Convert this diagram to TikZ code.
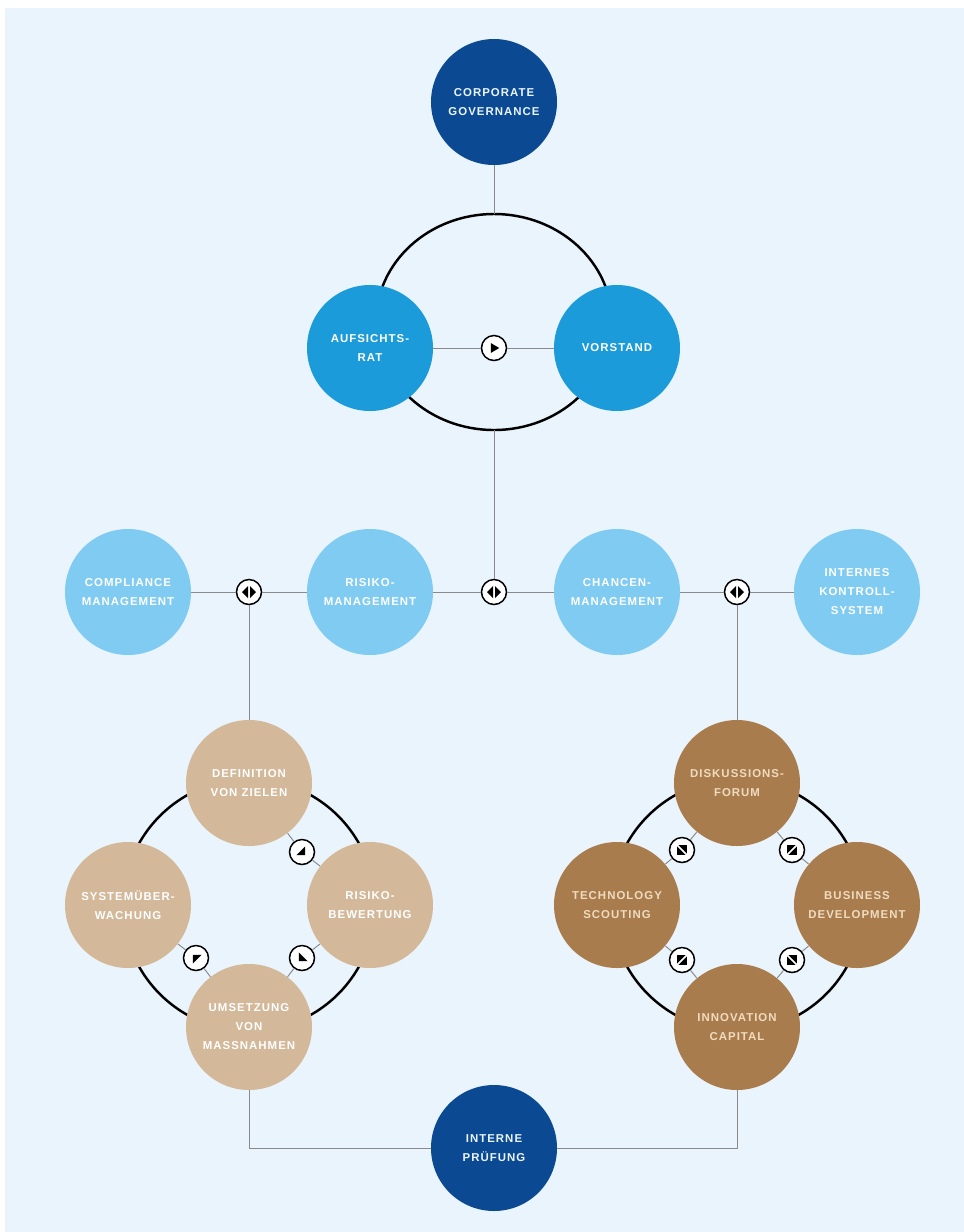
\documentclass[tikz,border=0pt]{standalone}
\usepackage{fontspec}
\newfontfamily\chartfont[LetterSpace=9]{Liberation Sans}
\usepackage{xcolor}
\usepackage{tikz}
\usetikzlibrary{positioning}

\definecolor{panel}{HTML}{EAF4FC}
\definecolor{govblue}{HTML}{0B4A93}
\definecolor{boardblue}{HTML}{1C9BDA}
\definecolor{mgmtblue}{HTML}{80CBF1}
\definecolor{risktan}{HTML}{D3B89A}
\definecolor{innobrown}{HTML}{A97C4D}
\definecolor{innotext}{HTML}{EFDCC0}
\definecolor{linegray}{HTML}{8A8A8A}

\begin{document}
\begin{tikzpicture}[x=0.2mm,y=-0.2mm,
  bubble/.style={circle,minimum size=25.2mm,inner sep=0pt,align=center,
    font=\chartfont\bfseries\fontsize{6.5}{10.8}\selectfont},
  govnode/.style={bubble,fill=govblue,text=panel},
  boardnode/.style={bubble,fill=boardblue,text=white},
  mgmtnode/.style={bubble,fill=mgmtblue,text=white},
  risknode/.style={bubble,fill=risktan,text=white},
  innonode/.style={bubble,fill=innobrown,text=innotext},
  link/.style={draw=linegray,line width=0.55pt},
  ring/.style={draw=black,line width=1.4pt},
  icon/.style={circle,draw=black,line width=0.85pt,fill=white,minimum size=5mm,inner sep=0pt}
]
  \useasboundingbox (0,0) rectangle (964,1232);
  \fill[white] (0,0) rectangle (964,1232);
  \fill[panel] (5,8) rectangle (964,1232);

  % Rings
  \draw[ring] (494,322) ellipse [x radius=23.6mm, y radius=21.6mm];
  \draw[ring] (249,905) circle [radius=25.2mm];
  \draw[ring] (737,905) circle [radius=25.2mm];
  \coordinate (ringtop) at (494,214);
  \coordinate (ringbot) at (494,430);

  % Governance
  \node[govnode]   (gov)   at (494,102)  {CORPORATE\\GOVERNANCE};
  \node[boardnode] (board) at (370,348)  {AUFSICHTS-\\RAT};
  \node[boardnode] (exec)  at (617,348)  {VORSTAND};
  \node[icon]      (bx)    at (494,348)  {};

  % Management row
  \node[mgmtnode] (comp)  at (128,592) {COMPLIANCE\\MANAGEMENT};
  \node[mgmtnode] (risk)  at (370,592) {RISIKO-\\MANAGEMENT};
  \node[mgmtnode] (chanc) at (617,592) {CHANCEN-\\MANAGEMENT};
  \node[mgmtnode] (iks)   at (857,592) {INTERNES\\KONTROLL-\\SYSTEM};
  \node[icon] (mx1) at (249,592) {};
  \node[icon] (mx2) at (494,592) {};
  \node[icon] (mx3) at (737,592) {};

  % Risk cycle
  \node[risknode] (goal)  at (249,783)  {DEFINITION\\VON ZIELEN};
  \node[risknode] (watch) at (128,905)  {SYSTEMÜBER-\\WACHUNG};
  \node[risknode] (rate)  at (370,905)  {RISIKO-\\BEWERTUNG};
  \node[risknode] (act)   at (249,1027) {UMSETZUNG\\VON\\MASSNAHMEN};
  \node[icon] (rx1) at (302,852) {};
  \node[icon] (rx2) at (302,958) {};
  \node[icon] (rx3) at (196,958) {};

  % Opportunity cycle
  \node[innonode] (forum)   at (737,783)  {DISKUSSIONS-\\FORUM};
  \node[innonode] (scout)   at (617,905)  {TECHNOLOGY\\SCOUTING};
  \node[innonode] (bizdev)  at (857,905)  {BUSINESS\\DEVELOPMENT};
  \node[innonode] (capital) at (737,1027) {INNOVATION\\CAPITAL};
  \node[icon] (ox1) at (682,850) {};
  \node[icon] (ox2) at (792,850) {};
  \node[icon] (ox3) at (682,960) {};
  \node[icon] (ox4) at (792,960) {};

  % Audit
  \node[govnode] (audit) at (494,1148) {INTERNE\\PRÜFUNG};

  % Icon tips
  \fill[shift={(bx.center)}] (1.05mm,0pt)--(-0.65mm,1mm)--(-0.65mm,-1mm)--cycle;
  \foreach \ic/\ang in {rx1/-45,rx2/-135,rx3/135}
    \fill[shift={(\ic.center)},rotate=\ang]
      (0.9mm,0pt)--(-0.35mm,1.25mm)--(-0.35mm,-1.25mm)--cycle;
  \foreach \ic/\ang in {mx1/0,mx2/0,mx3/0,ox1/45,ox2/-45,ox3/-45,ox4/45}
    \fill[shift={(\ic.center)},rotate=\ang]
      (1.4mm,0pt)--(0.2mm,1.2mm)--(0.2mm,-1.2mm)--cycle
      (-1.4mm,0pt)--(-0.2mm,1.2mm)--(-0.2mm,-1.2mm)--cycle;

  % Connections
  \draw[link] (gov) -- (ringtop);
  \draw[link] (board) -- (bx) -- (exec);
  \draw[link] (ringbot) -- (mx2);
  \draw[link] (comp) -- (mx1) -- (risk) -- (mx2) -- (chanc) -- (mx3) -- (iks);
  \draw[link] (mx1) -- (goal);
  \draw[link] (mx3) -- (forum);
  \draw[link] (goal) -- (rx1) -- (rate);
  \draw[link] (rate) -- (rx2) -- (act);
  \draw[link] (act) -- (rx3) -- (watch);
  \draw[link] (scout) -- (ox1) -- (forum);
  \draw[link] (forum) -- (ox2) -- (bizdev);
  \draw[link] (scout) -- (ox3) -- (capital);
  \draw[link] (capital) -- (ox4) -- (bizdev);
  \draw[link] (act) |- (audit);
  \draw[link] (capital) |- (audit);
\end{tikzpicture}
\end{document}
